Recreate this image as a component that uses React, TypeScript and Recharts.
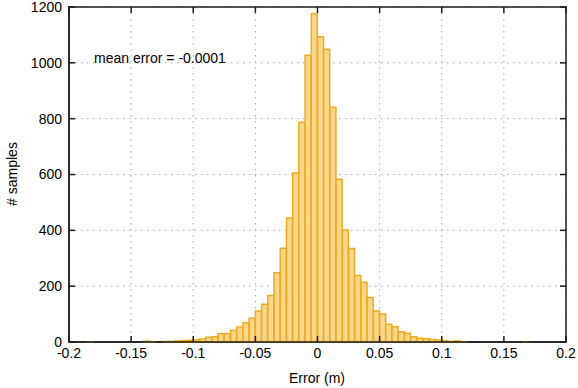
import React from "react";
import {
  ComposedChart,
  Bar,
  XAxis,
  YAxis,
  CartesianGrid,
  Customized,
} from "recharts";

const binStart = -0.2;
const binWidth = 0.005;

// sample counts per 0.005 m bin, from -0.2 to 0.2
const counts = [
  0, 0, 0, 1, 0, 0, 0, 0, 0, 0, 0, 0, 3, 1, 0, 2, 2, 4, 5, 6,
  8, 11, 17, 19, 30, 30, 41, 54, 69, 85, 111, 135, 167, 248, 336, 444, 605, 787, 1027, 1176,
  1093, 1049, 841, 583, 401, 335, 238, 214, 159, 111, 100, 64, 55, 37, 31, 19, 13, 12, 9, 7,
  5, 2, 4, 1, 0, 0, 0, 0, 0, 0, 0, 0, 0, 1, 0, 0, 0, 0, 0, 0,
];

const xTicks = [-0.2, -0.15, -0.1, -0.05, 0, 0.05, 0.1, 0.15, 0.2];
const yTicks = [0, 200, 400, 600, 800, 1000, 1200];

const xTitle = "Error (m)";
const yTitle = "# samples";
const note = "mean error = -0.0001";

const data = counts.map((count, i) => ({
  bin: i,
  center: +(binStart + (i + 0.5) * binWidth).toFixed(4),
  count,
}));

const font = "'Liberation Sans', Arial, Helvetica, sans-serif";
const ink = "#1c1c1c";
const plotW = 497;
const plotH = 335;
const tickLen = 6;

// gnuplot-style ticks: marks on both sides of the frame, pointing inwards
const XTick = ({ x, y, payload }: any) => (
  <g>
    <rect x={x - 0.75} y={y - tickLen} width={1.5} height={tickLen} fill={ink} />
    <rect x={x - 0.75} y={y - plotH} width={1.5} height={tickLen} fill={ink} />
    <text x={x} y={y + 6} dy="0.71em" textAnchor="middle" fontFamily={font} fontSize={14} fill="#000">
      {payload.value}
    </text>
  </g>
);

const YTick = ({ x, y, payload }: any) => (
  <g>
    <rect x={x} y={y - 0.75} width={tickLen} height={1.5} fill={ink} />
    <rect x={x + plotW - tickLen} y={y - 0.75} width={tickLen} height={1.5} fill={ink} />
    <text x={x - 7} y={y} dy="0.355em" textAnchor="end" fontFamily={font} fontSize={14} fill="#000">
      {payload.value}
    </text>
  </g>
);

export default function App() {
  return (
    <div style={{ position: "absolute", left: 0, top: 0, width: 578, height: 388 }}>
      <ComposedChart
        width={578}
        height={388}
        data={data}
        margin={{ top: 7, right: 12, bottom: 16, left: 9 }}
        barCategoryGap={0}
        barGap={0}
      >
        <CartesianGrid
          xAxisId="num"
          yAxisId="left"
          stroke="#aaa"
          strokeDasharray="1.5 4.5"
          horizontalValues={yTicks}
          verticalValues={xTicks}
        />
        <XAxis xAxisId="bins" dataKey="bin" type="category" hide height={0} />
        <Bar
          xAxisId="bins"
          yAxisId="left"
          dataKey="count"
          fill="#f8d68c"
          stroke="#eeac22"
          strokeWidth={1.5}
          isAnimationActive={false}
        />
        <XAxis
          xAxisId="num"
          dataKey="center"
          type="number"
          domain={[-0.2, 0.2]}
          ticks={xTicks}
          allowDataOverflow
          height={30}
          axisLine={{ stroke: ink, strokeWidth: 1.5 }}
          tickLine={false}
          tickSize={0}
          tickMargin={0}
          tick={<XTick />}
          interval={0}
        />
        <YAxis
          yAxisId="left"
          domain={[0, 1200]}
          ticks={yTicks}
          width={60}
          axisLine={{ stroke: ink, strokeWidth: 1.5 }}
          tickLine={false}
          tickSize={0}
          tickMargin={0}
          tick={<YTick />}
          interval={0}
        />
        <Customized
          component={(props: any) => {
            const off = props.offset || { left: 69, top: 7, width: plotW, height: plotH };
            return (
              <g>
                <rect x={off.left - 0.75} y={off.top - 0.75} width={off.width + 1.5} height={1.5} fill={ink} />
                <rect x={off.left + off.width - 0.75} y={off.top - 0.75} width={1.5} height={off.height + 1.5} fill={ink} />
                <rect x={off.left - 0.75} y={off.top - 0.75} width={1.5} height={off.height + 1.5} fill={ink} />
                <rect x={off.left - 0.75} y={off.top + off.height - 0.75} width={off.width + 1.5} height={1.5} fill={ink} />
                <g fontFamily={font} fontSize={14} fill="#000">
                  <text x={94} y={58} dominantBaseline="central">
                    {note}
                  </text>
                  <text x={317} y={378} textAnchor="middle" dominantBaseline="central">
                    {xTitle}
                  </text>
                  <text
                    x={12}
                    y={174}
                    textAnchor="middle"
                    dominantBaseline="central"
                    transform="rotate(-90 12 174)"
                  >
                    {yTitle}
                  </text>
                </g>
              </g>
            );
          }}
        />
      </ComposedChart>
    </div>
  );
}
